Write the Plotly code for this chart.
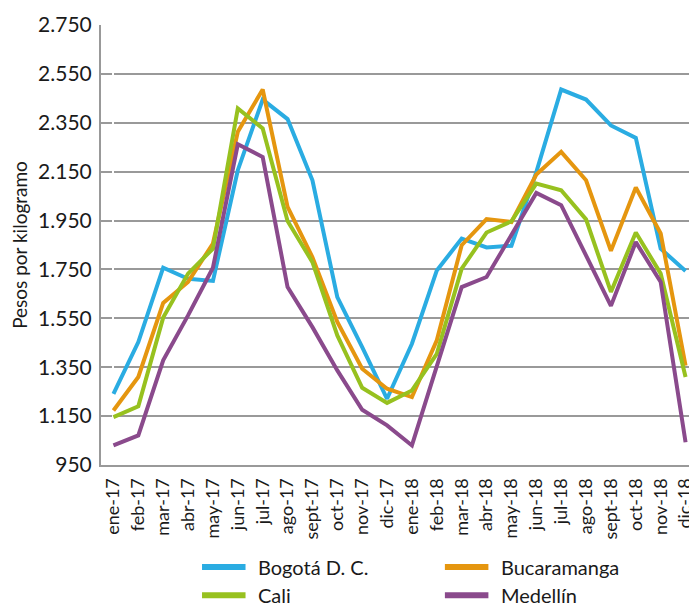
import plotly.graph_objects as go

meses = ["ene-17", "feb-17", "mar-17", "abr-17", "may-17", "jun-17", "jul-17", "ago-17",
         "sept-17", "oct-17", "nov-17", "dic-17", "ene-18", "feb-18", "mar-18", "abr-18",
         "may-18", "jun-18", "jul-18", "ago-18", "sept-18", "oct-18", "nov-18", "dic-18"]

bogota = [1241, 1453, 1757, 1712, 1703, 2156, 2445, 2365, 2115, 1637, 1432, 1221,
          1446, 1746, 1876, 1840, 1847, 2148, 2486, 2445, 2339, 2288, 1835, 1744]
bucaramanga = [1173, 1310, 1613, 1699, 1856, 2313, 2486, 2006, 1800, 1535, 1344, 1262,
               1228, 1460, 1849, 1956, 1944, 2138, 2231, 2115, 1826, 2085, 1897, 1357]
cali = [1146, 1190, 1553, 1733, 1835, 2409, 2327, 1948, 1780, 1480, 1266, 1204,
        1255, 1405, 1753, 1901, 1947, 2101, 2074, 1955, 1658, 1901, 1733, 1310]
medellin = [1030, 1071, 1378, 1562, 1757, 2262, 2210, 1678, 1514, 1337, 1176, 1112,
            1030, 1351, 1678, 1719, 1890, 2063, 2013, 1808, 1601, 1862, 1699, 1043]

series = [
    ("Bogotá D. C.", bogota, "#2AACE2"),
    ("Bucaramanga", bucaramanga, "#E5960F"),
    ("Cali", cali, "#97C11F"),
    ("Medellín", medellin, "#8A4A8C"),
]

fig = go.Figure()
for nombre, valores, color in series:
    fig.add_trace(go.Scatter(
        x=list(range(len(meses))), y=valores, name=nombre, mode="lines",
        line=dict(color=color, width=4), showlegend=False,
    ))

# legend drawn by hand: 2 columns x 2 rows under the axis (paper coords)
col_x = [0.1695, 0.577]
row_y = [-0.232, -0.296]
for i, (nombre, _, color) in enumerate(series):
    x0 = col_x[i % 2]
    y0 = row_y[i // 2]
    fig.add_shape(type="line", xref="paper", yref="paper",
                  x0=x0, x1=x0 + 0.073, y0=y0, y1=y0,
                  line=dict(color=color, width=6))
    fig.add_annotation(xref="paper", yref="paper", x=x0 + 0.09, y=y0,
                       text=nombre, showarrow=False, xanchor="left", yanchor="middle",
                       font=dict(size=20))

# page body adds an 8px offset, so the figure is 8px smaller than the window
fig.update_layout(
    width=689, height=598,
    margin=dict(l=93, r=0, t=17, b=141),
    plot_bgcolor="white", paper_bgcolor="white",
    separators=",.",
    font=dict(family="Lato, Noto Sans, sans-serif", color="#1a1a1a"),
    xaxis=dict(
        tickmode="array", tickvals=list(range(len(meses))), ticktext=meses,
        tickangle=-90, range=[-0.5, 23.46], showgrid=False,
        showline=True, linecolor="#999", linewidth=2,
        tickfont=dict(size=18), ticks="", automargin=False, ticklabelstandoff=4,
    ),
    yaxis=dict(
        range=[950, 2750], dtick=200, tick0=950, tickformat=",.0f",
        showgrid=True, gridcolor="#999", gridwidth=2,
        showline=True, linecolor="#999", linewidth=2,
        tickfont=dict(size=21), ticks="", zeroline=False, automargin=False,
        ticklabelstandoff=3,
        title=dict(text="Pesos por kilogramo", font=dict(size=19), standoff=12),
    ),
)

fig.write_html("out.html")
